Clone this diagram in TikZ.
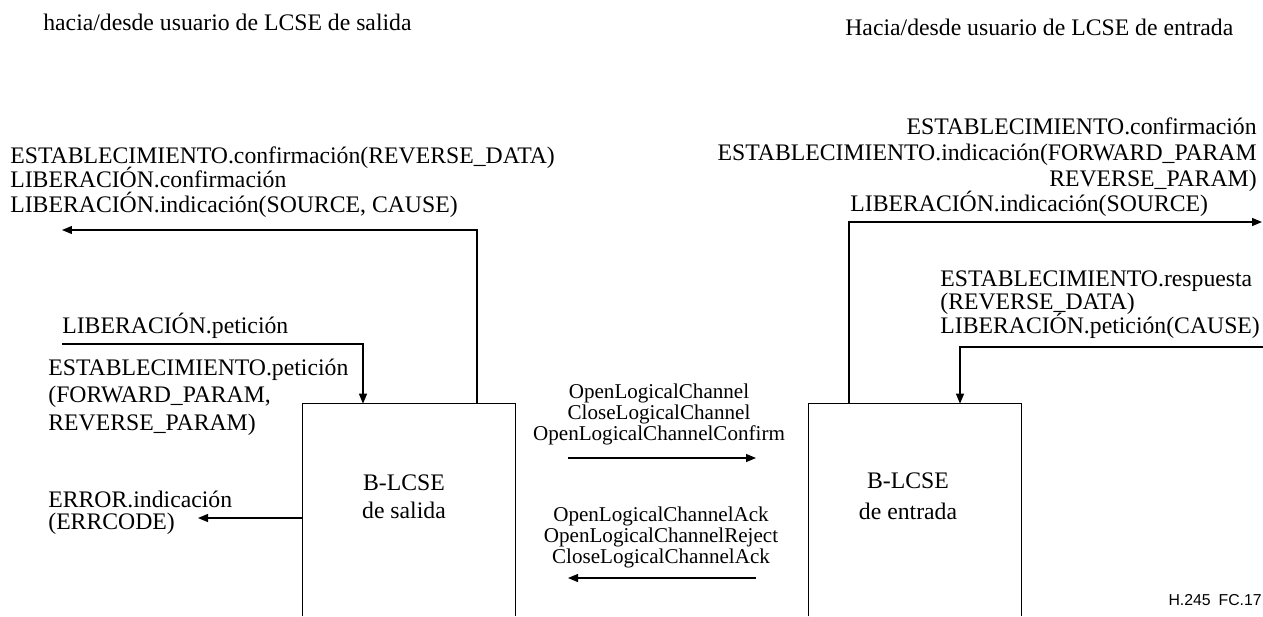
\documentclass[tikz,border=0pt]{standalone}
\usepackage{fontspec}
\setmainfont{Liberation Serif}
\newfontfamily\figfont{Liberation Sans}
\usetikzlibrary{arrows.meta}

\newcommand\tightlines{\lineskiplimit-20pt\relax}

\tikzset{
  prim/.style={inner sep=0pt, font={\fontsize{13.5}{#1}\selectfont\tightlines}},
  prim/.default=13,
  pdu/.style={inner sep=0pt, align=center,
    font={\fontsize{12}{11.9}\selectfont\tightlines}},
  sig/.style={line width=0.7pt, -{Triangle[length=2mm,width=1.6mm]}},
  lcse/.style={minimum width=4.24cm, minimum height=4.24cm, inner sep=0pt}
}

\begin{document}
\begin{tikzpicture}[x=0.02cm,y=-0.02cm]
\useasboundingbox (0,0) rectangle (1263,616);

% users on either side
\node[prim,anchor=base west] (usal) at (43,30) {hacia/desde usuario de LCSE de salida};
\node[prim,anchor=base west] (uent) at (845,35) {Hacia/desde usuario de LCSE de entrada};

% the two B-LCSE entities, open at the bottom
\node[lcse] (salida) at (409,510) {};
\node[lcse] (entrada) at (915,510) {};
\draw[line width=0.7pt] (salida.south west) -- (salida.north west)
  -- (salida.north east) -- (salida.south east);
\draw[line width=0.7pt] (entrada.south west) -- (entrada.north west)
  -- (entrada.north east) -- (entrada.south east);
% (base of a multi-line node = its last line)
\node[prim=15.5,align=center,anchor=base] (saltxt) at (404,518) {B-LCSE\\de salida};
\node[prim=17.5,align=center,anchor=base] (enttxt) at (908,519) {B-LCSE\\de entrada};

% outgoing side: primitives to the user
\node[prim=13.9,align=left,anchor=base west] (confsal) at (10,212)
  {ESTABLECIMIENTO.confirmación(REVERSE\_DATA)\\
   LIBERACIÓN.confirmación\\
   LIBERACIÓN.indicación(SOURCE, CAUSE)};
\coordinate (salup) at (477,230);
\coordinate (salout) at (62,230);
\draw[sig] (salida.north -| salup) -- (salup) -- (salout);

% outgoing side: primitives from the user
\node[prim,anchor=base west] (relpet) at (62,333) {LIBERACIÓN.petición};
\coordinate (relin) at (62,344);
\coordinate (relbend) at (363,344);
\draw[sig] (relin) -- (relbend) -- (salida.north -| relbend);
\node[prim=15.6,align=left,anchor=base west] (estpet) at (48,430)
  {ESTABLECIMIENTO.petición\\(FORWARD\_PARAM,\\REVERSE\_PARAM)};

% error indication
\node[prim=12,align=left,anchor=base west] (errind) at (48,529)
  {ERROR.indicación\\(ERRCODE)};
\coordinate (errout) at (198,518);
\draw[sig] (salida.west |- errout) -- (errout);

% messages between the two entities
\node[pdu,anchor=base] (fwdmsg) at (659,440)
  {OpenLogicalChannel\\CloseLogicalChannel\\OpenLogicalChannelConfirm};
\coordinate (fwdA) at (568,458);
\coordinate (fwdB) at (756,458);
\draw[sig] (fwdA) -- (fwdB);
\node[pdu,anchor=base] (bwdmsg) at (661,563)
  {OpenLogicalChannelAck\\OpenLogicalChannelReject\\CloseLogicalChannelAck};
\coordinate (bwdA) at (756,578);
\coordinate (bwdB) at (568,578);
\draw[sig] (bwdA) -- (bwdB);

% incoming side: primitives to the user
\node[prim=14.6,align=right,anchor=base east] (estind) at (1257,186)
  {ESTABLECIMIENTO.confirmación\\
   ESTABLECIMIENTO.indicación(FORWARD\_PARAM\\
   REVERSE\_PARAM)};
\node[prim,anchor=base west] (relind) at (850,211) {LIBERACIÓN.indicación(SOURCE)};
\coordinate (entup) at (849,222);
\coordinate (entout) at (1262,222);
\draw[sig] (entrada.north -| entup) -- (entup) -- (entout);

% incoming side: primitives from the user
\node[prim=13.2,align=left,anchor=base west] (estresp) at (940,333)
  {ESTABLECIMIENTO.respuesta\\(REVERSE\_DATA)\\LIBERACIÓN.petición(CAUSE)};
\coordinate (respin) at (1263,347);
\coordinate (respbend) at (960,347);
\draw[sig] (respin) -- (respbend) -- (entrada.north -| respbend);

% figure number
\node[inner sep=0pt,anchor=base east,font={\figfont\fontsize{9}{10}\selectfont}] (fignum)
  at (1262,605) {H.245\enspace FC.17};
\end{tikzpicture}
\end{document}
